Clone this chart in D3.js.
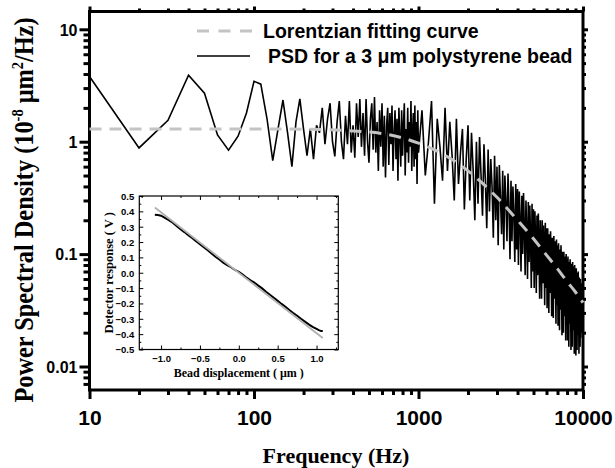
<!DOCTYPE html>
<meta charset="utf-8">
<style>
body { margin: 0; background: #fff; }
svg { display: block; background: #fff; }
text { font-family: "Liberation Sans", Arial, sans-serif; font-weight: bold; fill: #000; }
text.serif { font-family: "Liberation Serif", "Times New Roman", serif; }
</style>
<svg width="615" height="468"></svg>
<script src="https://cdn.jsdelivr.net/npm/d3@7"></script>
<script>

// measured PSD, 10 Hz bins from 10 Hz to 1000 Hz
var lowStart = 10, lowStep = 10;
var psdLow = [
  3.8, 0.88, 1.55, 3.9, 2.7, 1.15, 0.84, 1.12, 1.8, 3.45,
  3.25, 1.6, 0.68, 1.3, 2.35, 1.2, 0.6, 1.5, 2.4, 1.3,
  0.75, 1.3, 0.7, 1.4, 1.2, 2.0, 0.95, 1.6, 2.2, 1.0,
  0.74, 1.5, 2.3, 1.0, 0.7, 1.7, 0.95, 2.3, 0.8, 1.4,
  0.72, 2.2, 1.1, 2.4, 0.9, 1.8, 0.75, 2.4, 1.0, 0.65,
  1.6, 2.2, 0.85, 2.5, 0.8, 1.5, 0.55, 1.9, 0.9, 2.2,
  0.6, 1.7, 0.48, 1.4, 2.0, 0.62, 1.8, 0.95, 2.1, 0.55,
  1.2, 1.9, 0.7, 1.6, 0.45, 2.0, 1.1, 0.6, 1.9, 0.75,
  1.4, 2.2, 0.5, 1.3, 0.8, 2.0, 0.65, 1.5, 0.9, 2.3,
  0.55, 1.2, 1.8, 0.6, 2.1, 0.7, 1.5, 0.42, 1.9, 0.8
];

// measured PSD, 50 Hz bins from 1050 Hz to 10000 Hz
var highStart = 1050, highStep = 50;
var psdHigh = [
  1.9, 0.5, 1.0, 2.3, 0.28, 1.6, 0.9, 0.45, 2.0, 0.55,
  1.5, 0.75, 0.3, 1.6, 0.42, 0.8, 1.3, 0.25, 0.7, 1.4,
  0.3, 1.2, 0.55, 0.2, 1.0, 0.28, 1.1, 0.5, 0.22, 0.95,
  0.45, 0.17, 0.85, 0.24, 0.7, 0.4, 0.14, 0.75, 0.2, 0.6,
  0.12, 0.62, 0.32, 0.15, 0.55, 0.11, 0.5, 0.3, 0.13, 0.52,
  0.26, 0.09, 0.45, 0.13, 0.4, 0.22, 0.085, 0.42, 0.11, 0.38,
  0.08, 0.36, 0.2, 0.07, 0.33, 0.1, 0.35, 0.17, 0.065, 0.3,
  0.16, 0.06, 0.29, 0.085, 0.27, 0.14, 0.05, 0.28, 0.07, 0.25,
  0.05, 0.24, 0.13, 0.045, 0.22, 0.065, 0.23, 0.11, 0.04, 0.2,
  0.11, 0.04, 0.2, 0.055, 0.18, 0.1, 0.035, 0.19, 0.05, 0.17,
  0.033, 0.17, 0.09, 0.03, 0.15, 0.045, 0.16, 0.08, 0.028, 0.14,
  0.08, 0.027, 0.145, 0.04, 0.13, 0.07, 0.024, 0.135, 0.035, 0.12,
  0.023, 0.125, 0.065, 0.021, 0.11, 0.032, 0.12, 0.06, 0.019, 0.105,
  0.06, 0.02, 0.105, 0.028, 0.095, 0.055, 0.017, 0.1, 0.026, 0.09,
  0.017, 0.095, 0.05, 0.015, 0.085, 0.024, 0.09, 0.048, 0.014, 0.082,
  0.046, 0.015, 0.085, 0.021, 0.078, 0.042, 0.013, 0.08, 0.019, 0.072,
  0.0125, 0.075, 0.04, 0.014, 0.068, 0.019, 0.07, 0.038, 0.013, 0.062,
  0.036, 0.015, 0.06, 0.018, 0.055, 0.033, 0.02, 0.05, 0.025, 0.04
];

// Lorentzian fit
var fitFreq = [10, 100, 200, 500, 1000, 1500, 2000, 3000, 4000, 5000, 6000, 7000, 8000, 9000, 10000];
var fitPsd  = [1.30, 1.30, 1.29, 1.22, 0.97, 0.735, 0.55, 0.32, 0.20, 0.137, 0.098, 0.074, 0.057, 0.046, 0.037];

// inset: detector response vs bead displacement
var insetDisp = [-1.08, -1.04, -1.0, -0.95, -0.9, -0.85, -0.8, -0.75, -0.7, -0.65, -0.6, -0.55, -0.5, -0.45, -0.4,
                 -0.35, -0.3, -0.25, -0.2, -0.15, -0.1, -0.05, 0.0, 0.05, 0.1, 0.15, 0.2, 0.25, 0.3, 0.35,
                 0.4, 0.45, 0.5, 0.55, 0.6, 0.65, 0.7, 0.75, 0.8, 0.85, 0.9, 0.95, 1.0, 1.03, 1.06, 1.08];
var insetResp = [0.378, 0.376, 0.372, 0.358, 0.342, 0.326, 0.305, 0.283, 0.265, 0.245, 0.226, 0.205, 0.186, 0.166, 0.146,
                 0.125, 0.104, 0.086, 0.066, 0.05, 0.036, 0.018, 0.006, -0.012, -0.032, -0.05, -0.064, -0.084, -0.102, -0.124,
                 -0.143, -0.163, -0.183, -0.203, -0.222, -0.243, -0.262, -0.28, -0.3, -0.318, -0.336, -0.352, -0.366, -0.374, -0.38, -0.38];
var insetFitDisp = [-1.08, 1.08];
var insetFitResp = [0.425, -0.425];

var xMajor = [10, 100, 1000, 10000];
var yMajor = [0.01, 0.1, 1, 10];
var insetXTicks = [-1.0, -0.5, 0.0, 0.5, 1.0];
var insetYTicks = [-0.5, -0.4, -0.3, -0.2, -0.1, 0.0, 0.1, 0.2, 0.3, 0.4, 0.5];

var legendLabels = ["Lorentzian fitting curve", "PSD for a 3 \u03bcm polystyrene bead"];

var psd = psdLow.map(function(v, i) { return [lowStart + i * lowStep, v]; })
  .concat(psdHigh.map(function(v, i) { return [highStart + i * highStep, v]; }));
var fit = fitFreq.map(function(f, i) { return [f, fitPsd[i]]; });

var svg = d3.select("svg");
var pL = 89.5, pR = 583, pT = 11.5, pB = 390;

var x = d3.scaleLog().domain([10, 10000]).range([pL, pR]);
var y = d3.scaleLog().domain([0.00618, 14.4]).range([pB, pT]);

function minorTicks(scale) {
  var d = scale.domain(), out = [];
  for (var e = Math.floor(Math.log10(d[0])); e <= Math.ceil(Math.log10(d[1])); e++) {
    for (var m = 2; m <= 9; m++) {
      var v = m * Math.pow(10, e);
      if (v >= d[0] && v <= d[1]) out.push(v);
    }
  }
  return out;
}

function tickLines(g) {
  g.select(".domain").remove();
  g.selectAll(".tick line").attr("stroke", "#000").attr("stroke-width", 3);
}

// minor + major ticks on four sides
svg.append("g").attr("transform", "translate(0," + pB + ")")
  .call(d3.axisBottom(x).tickValues(minorTicks(x)).tickSize(5).tickFormat(""))
  .call(tickLines);
var xAxis = svg.append("g").attr("transform", "translate(0," + pB + ")")
  .call(d3.axisBottom(x).tickValues(xMajor).tickSize(9).tickFormat(function(d) { return String(d); }))
  .call(tickLines);
xAxis.selectAll("text").attr("y", 35).attr("dy", null).style("font-size", "21px");

svg.append("g").attr("transform", "translate(0," + pT + ")")
  .call(d3.axisTop(x).tickValues(minorTicks(x)).tickSize(3).tickFormat(""))
  .call(tickLines);
svg.append("g").attr("transform", "translate(0," + pT + ")")
  .call(d3.axisTop(x).tickValues(xMajor).tickSize(5).tickFormat(""))
  .call(tickLines);

svg.append("g").attr("transform", "translate(" + pL + ",0)")
  .call(d3.axisLeft(y).tickValues(minorTicks(y)).tickSize(6).tickFormat(""))
  .call(tickLines);
var yAxis = svg.append("g").attr("transform", "translate(" + pL + ",0)")
  .call(d3.axisLeft(y).tickValues(yMajor).tickSize(10).tickFormat(function(d) { return String(d); }))
  .call(tickLines);
yAxis.selectAll("text").attr("x", -12).attr("dy", "0.36em").style("font-size", "16px");

svg.append("g").attr("transform", "translate(" + pR + ",0)")
  .call(d3.axisRight(y).tickValues(minorTicks(y)).tickSize(3).tickFormat(""))
  .call(tickLines);
svg.append("g").attr("transform", "translate(" + pR + ",0)")
  .call(d3.axisRight(y).tickValues(yMajor).tickSize(5).tickFormat(""))
  .call(tickLines);

// frame
svg.append("rect")
  .attr("x", pL).attr("y", pT)
  .attr("width", pR - pL).attr("height", pB - pT)
  .attr("fill", "none").attr("stroke", "#000").attr("stroke-width", 3);

var line = d3.line()
  .x(function(d) { return x(d[0]); })
  .y(function(d) { return y(d[1]); });

svg.append("path")
  .datum(psd)
  .attr("d", line)
  .attr("fill", "none")
  .attr("stroke", "#000")
  .attr("stroke-width", 1.6);

svg.append("path")
  .datum(fit)
  .attr("d", line.curve(d3.curveMonotoneX))
  .attr("fill", "none")
  .attr("stroke", "#c4c4c4")
  .attr("stroke-width", 3)
  .attr("stroke-dasharray", "12,8");

// legend
svg.append("line").attr("x1", 197).attr("x2", 252).attr("y1", 31).attr("y2", 31)
  .attr("stroke", "#c4c4c4").attr("stroke-width", 3).attr("stroke-dasharray", "12,9.5");
svg.append("text").attr("x", 263).attr("y", 38).style("font-size", "19.5px").text(legendLabels[0]);
svg.append("line").attr("x1", 197).attr("x2", 250).attr("y1", 56).attr("y2", 56)
  .attr("stroke", "#000").attr("stroke-width", 1.4);
svg.append("text").attr("x", 268).attr("y", 63).style("font-size", "19.5px").text(legendLabels[1]);

// axis titles
svg.append("text").attr("class", "serif")
  .attr("x", 336).attr("y", 463)
  .attr("text-anchor", "middle")
  .style("font-size", "22px")
  .text("Frequency (Hz)");

var yt = svg.append("text").attr("class", "serif")
  .attr("transform", "translate(33,210) rotate(-90)")
  .attr("text-anchor", "middle")
  .attr("textLength", 385)
  .attr("lengthAdjust", "spacingAndGlyphs")
  .style("font-size", "27px");
yt.append("tspan").text("Power Spectral Density (10");
yt.append("tspan").attr("dy", -10).style("font-size", "16px").text("-8");
yt.append("tspan").attr("dy", 10).text(" \u03bcm");
yt.append("tspan").attr("dy", -10).style("font-size", "16px").text("2");
yt.append("tspan").attr("dy", 10).text("/Hz)");

// inset
var iL = 139.3, iR = 338.3, iT = 196, iB = 349.5;
var ix = d3.scaleLinear().domain([-1.28, 1.28]).range([iL, iR]);
var iy = d3.scaleLinear().domain([-0.5, 0.5]).range([iB, iT]);

svg.append("rect").attr("x", iL).attr("y", iT).attr("width", iR - iL).attr("height", iB - iT)
  .attr("fill", "#fff");

function thin(g) {
  g.select(".domain").remove();
  g.selectAll(".tick line").attr("stroke", "#000").attr("stroke-width", 1);
}
var ixMinor = [-1.25, -0.75, -0.25, 0.25, 0.75, 1.25];
var iyMinor = [-0.45, -0.35, -0.25, -0.15, -0.05, 0.05, 0.15, 0.25, 0.35, 0.45];

var ixAxis = svg.append("g").attr("transform", "translate(0," + iB + ")")
  .call(d3.axisBottom(ix).tickValues(insetXTicks).tickSize(-4).tickFormat(d3.format(".1f")))
  .call(thin);
ixAxis.selectAll("text").attr("y", 12.5).attr("dy", null).style("font-size", "9.5px");
svg.append("g").attr("transform", "translate(0," + iB + ")")
  .call(d3.axisBottom(ix).tickValues(ixMinor).tickSize(-2).tickFormat("")).call(thin);
svg.append("g").attr("transform", "translate(0," + iT + ")")
  .call(d3.axisTop(ix).tickValues(insetXTicks).tickSize(-4).tickFormat("")).call(thin);
svg.append("g").attr("transform", "translate(0," + iT + ")")
  .call(d3.axisTop(ix).tickValues(ixMinor).tickSize(-2).tickFormat("")).call(thin);

var iyAxis = svg.append("g").attr("transform", "translate(" + iL + ",0)")
  .call(d3.axisLeft(iy).tickValues(insetYTicks).tickSize(-4).tickFormat(d3.format(".1f")))
  .call(thin);
iyAxis.selectAll("text").attr("x", -5).attr("dy", "0.35em").style("font-size", "9.5px");
svg.append("g").attr("transform", "translate(" + iL + ",0)")
  .call(d3.axisLeft(iy).tickValues(iyMinor).tickSize(-2).tickFormat("")).call(thin);
svg.append("g").attr("transform", "translate(" + iR + ",0)")
  .call(d3.axisRight(iy).tickValues(insetYTicks).tickSize(-4).tickFormat("")).call(thin);
svg.append("g").attr("transform", "translate(" + iR + ",0)")
  .call(d3.axisRight(iy).tickValues(iyMinor).tickSize(-2).tickFormat("")).call(thin);

svg.append("rect").attr("x", iL).attr("y", iT).attr("width", iR - iL).attr("height", iB - iT)
  .attr("fill", "none").attr("stroke", "#000").attr("stroke-width", 1.2);

var iline = d3.line()
  .x(function(d) { return ix(d[0]); })
  .y(function(d) { return iy(d[1]); });

svg.append("path")
  .datum(insetDisp.map(function(v, i) { return [v, insetResp[i]]; }))
  .attr("d", iline)
  .attr("fill", "none").attr("stroke", "#000").attr("stroke-width", 2);

svg.append("path")
  .datum(insetFitDisp.map(function(v, i) { return [v, insetFitResp[i]]; }))
  .attr("d", iline)
  .attr("fill", "none").attr("stroke", "#b0b0b0").attr("stroke-width", 1.8);

svg.append("text").attr("class", "serif")
  .attr("x", (iL + iR) / 2).attr("y", 377)
  .attr("text-anchor", "middle")
  .style("font-size", "12px")
  .text("Bead displacement ( \u03bcm )");

svg.append("text").attr("class", "serif")
  .attr("transform", "translate(113," + ((iT + iB) / 2) + ") rotate(-90)")
  .attr("text-anchor", "middle")
  .style("font-size", "12.5px")
  .text("Detector response ( V )");

</script>
